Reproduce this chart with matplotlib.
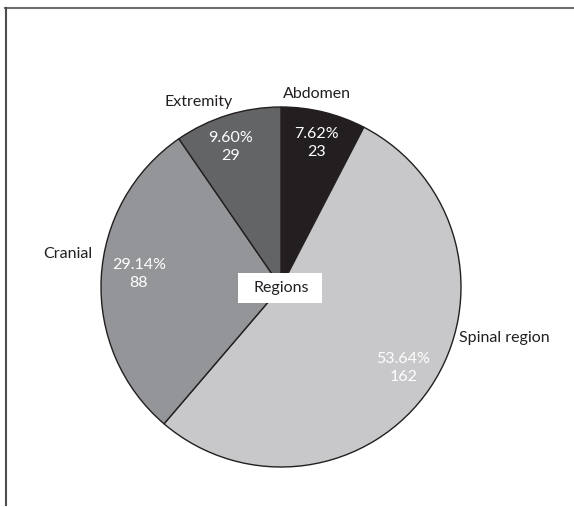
import matplotlib
matplotlib.use("Agg")
import matplotlib.pyplot as plt
from matplotlib.lines import Line2D
from matplotlib.patches import Rectangle

plt.rcParams['font.family'] = ['Lato', 'DejaVu Sans']

regions = ['Abdomen', 'Spinal region', 'Cranial', 'Extremity']
counts = [23, 162, 88, 29]
colors = ['#231f20', '#c8c8ca', '#939598', '#636466']

total = sum(counts)
inner = ['{:.2f}%\n{}'.format(100 * c / total, c) for c in counts]

W, H = 574, 507
fig = plt.figure(figsize=(W / 100, H / 100), dpi=100)

# pie centre ~ (281, 287) px, radius ~180 px
cx, cy, r = 281, 287, 180
ax = fig.add_axes([(cx - r) / W, 1 - (cy + r) / H, 2 * r / W, 2 * r / H])
wedges, outer_txt, inner_txt = ax.pie(
    counts, colors=colors, startangle=90, counterclock=False,
    labels=regions, labeldistance=1.1, autopct=lambda p: '',
    pctdistance=0.62,
    wedgeprops=dict(edgecolor='#231f20', linewidth=1.0))
ax.set_xlim(-1, 1)
ax.set_ylim(-1, 1)
ax.set_aspect('equal')

fs = 11.5
label_pos = [(0.20, 1.07), (0.99, -0.283), (-1.05, 0.183), (-0.46, 1.03)]
label_ha = ['center', 'left', 'right', 'center']
for t, p, ha in zip(outer_txt, label_pos, label_ha):
    t.set_position(p)
    t.set_ha(ha)
    t.set_va('center')
    t.set_fontsize(fs)
    t.set_color('#231f20')
    t.set_clip_on(False)

inner_pos = [(0.195, 0.80), (0.68, -0.45), (-0.79, 0.072), (-0.28, 0.78)]
for t, s, p in zip(inner_txt, inner, inner_pos):
    t.set_text(s)
    t.set_position(p)
    t.set_ha('center')
    t.set_va('center')
    t.set_fontsize(fs)
    t.set_color('white')
    t.set_linespacing(1.35)

ax.add_patch(Rectangle((-0.239, -0.089), 0.467, 0.167,
                       facecolor='white', edgecolor='none', zorder=3))
ax.text(0, -0.005, 'Regions', ha='center', va='center', fontsize=fs,
        color='#231f20', zorder=4)

# frame lines (top and left only)
fig.add_artist(Line2D([5 / W, 1], [1 - 8 / H, 1 - 8 / H],
                      color='#6d6e70', linewidth=1.5))
fig.add_artist(Line2D([6 / W, 6 / W], [1 - 8 / H, 2 / H],
                      color='#4d4d4f', linewidth=1.5))

fig.savefig('out.png', dpi=100)
